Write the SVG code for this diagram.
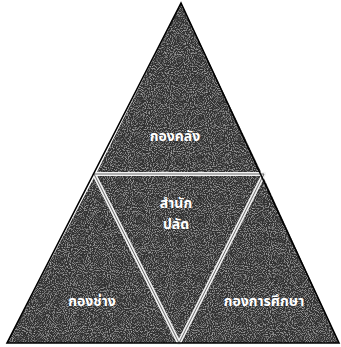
<svg xmlns="http://www.w3.org/2000/svg" width="341" height="347" viewBox="0 0 341 347">
  <defs>
    <filter id="grain" x="0" y="0" width="100%" height="100%">
      <feTurbulence type="fractalNoise" baseFrequency="0.95" numOctaves="2" seed="3" result="n"/>
      <feColorMatrix in="n" type="matrix" values="0 0 0 0 0.6  0 0 0 0 0.6  0 0 0 0 0.6  0 0 0 1.8 -0.85" result="speck"/>
      <feComposite in="speck" in2="SourceGraphic" operator="in" result="sp"/>
      <feMerge><feMergeNode in="SourceGraphic"/><feMergeNode in="sp"/></feMerge>
    </filter>
    <style>
      .cell { fill: #303030; filter: url(#grain); }
      .lbl { fill: #ffffff; font-family: "Noto Sans Thai", "Noto Sans", "Liberation Sans", sans-serif; font-weight: bold; font-size: 14px; text-anchor: middle; }
      .div { stroke: #f2f2f2; stroke-width: 4; fill: none; stroke-linecap: round; }
      .divc { stroke: #6a6a6a; stroke-width: 1; fill: none; }
    </style>
  </defs>
  <rect width="341" height="347" fill="#ffffff"/>
  <g id="top">
    <polygon class="cell" points="181,3 262,174 96,174"/>
    <text class="lbl" x="175" y="141">กองคลัง</text>
  </g>
  <g id="center">
    <polygon class="cell" points="96,174 262,174 179,343"/>
    <text class="lbl" x="176" y="208">สำนัก</text>
    <text class="lbl" x="176" y="229">ปลัด</text>
  </g>
  <g id="left">
    <polygon class="cell" points="96,174 179,343 7,343"/>
    <text class="lbl" x="92" y="306">กองช่าง</text>
  </g>
  <g id="right">
    <polygon class="cell" points="262,174 339,343 179,343"/>
    <text class="lbl" x="264" y="306">กองการศึกษา</text>
  </g>
  <g id="connectors">
    <polyline class="div" points="94,174 264,174"/>
    <polyline class="div" points="94,174 179,343"/>
    <polyline class="div" points="264,174 179,343"/>
    <polyline class="divc" points="94,174 264,174"/>
    <polyline class="divc" points="94,174 179,343"/>
    <polyline class="divc" points="264,174 179,343"/>
    <polygon points="181,3 339,343 7,343" fill="none" stroke="#000000" stroke-width="1.6" stroke-linejoin="miter"/>
  </g>
</svg>
